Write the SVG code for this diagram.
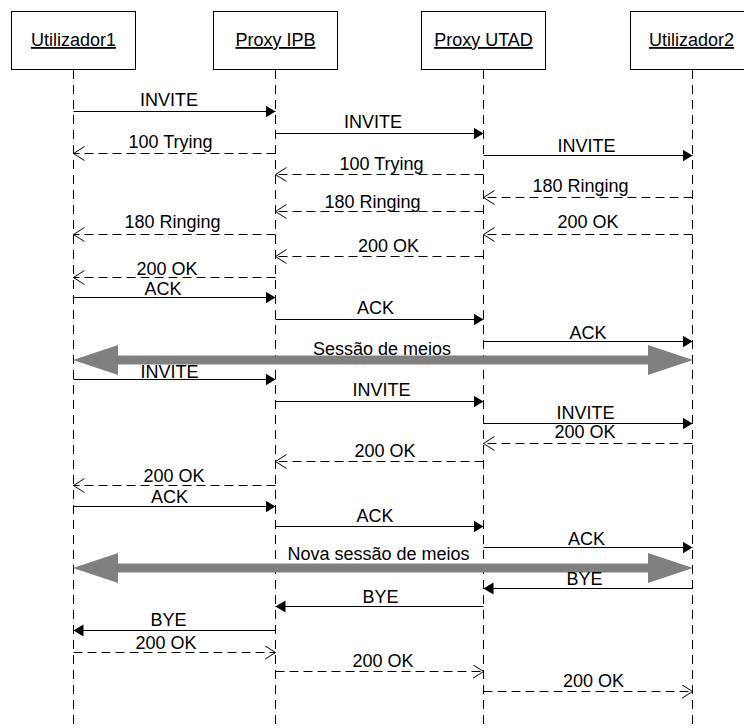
<svg xmlns="http://www.w3.org/2000/svg" width="744" height="728" viewBox="0 0 744 728">
<style>
text{font-family:"Liberation Sans",Arial,sans-serif;font-size:18px;fill:#000;text-anchor:middle}
.box{fill:#fff;stroke:#000;stroke-width:1}
.life{stroke:#000;stroke-width:1;stroke-dasharray:9 6;fill:none}
.msg{stroke:#000;stroke-width:1;fill:none;marker-end:url(#fill)}
.ret{stroke:#000;stroke-width:1;fill:none;stroke-dasharray:9 5;marker-end:url(#open)}
.sess{fill:#808080;stroke:none}
</style>
<defs>
<marker id="fill" markerUnits="userSpaceOnUse" markerWidth="12" markerHeight="14" refX="10" refY="6" orient="auto">
<path d="M0,0 L10,6 L0,12 z" fill="#000"/>
</marker>
<marker id="open" markerUnits="userSpaceOnUse" markerWidth="13" markerHeight="16" refX="11" refY="7" orient="auto">
<path d="M0,0 L11,7 L0,14" fill="none" stroke="#000" stroke-width="1"/>
</marker>
</defs>
<rect width="744" height="728" fill="#fff"/>
<g id="utilizador1">
<rect class="box" x="11.5" y="11.5" width="124" height="58"/>
<text x="73.5" y="46" text-decoration="underline">Utilizador1</text>
<line class="life" x1="73.5" y1="70" x2="73.5" y2="728"/>
</g>
<g id="proxy-ipb">
<rect class="box" x="213.5" y="11.5" width="124" height="58"/>
<text x="275.5" y="46" text-decoration="underline">Proxy IPB</text>
<line class="life" x1="275.5" y1="70" x2="275.5" y2="728"/>
</g>
<g id="proxy-utad">
<rect class="box" x="421.5" y="11.5" width="124" height="58"/>
<text x="483.5" y="46" text-decoration="underline">Proxy UTAD</text>
<line class="life" x1="483.5" y1="70" x2="483.5" y2="728"/>
</g>
<g id="utilizador2">
<rect class="box" x="630.5" y="11.5" width="124" height="58"/>
<text x="691.5" y="46" text-decoration="underline">Utilizador2</text>
<line class="life" x1="692.5" y1="70" x2="692.5" y2="728"/>
</g>
<g id="connectors">
<line class="msg" x1="73.5" y1="111.5" x2="275.5" y2="111.5"/>
<text x="169" y="106">INVITE</text>
<line class="msg" x1="275.5" y1="133.5" x2="483.5" y2="133.5"/>
<text x="373" y="128">INVITE</text>
<line class="ret" x1="275.5" y1="153.5" x2="73.5" y2="153.5"/>
<text x="170.5" y="148">100 Trying</text>
<line class="msg" x1="483.5" y1="155.5" x2="692.5" y2="155.5"/>
<text x="586.5" y="152">INVITE</text>
<line class="ret" x1="483.5" y1="174.5" x2="275.5" y2="174.5"/>
<text x="381.5" y="170">100 Trying</text>
<line class="ret" x1="692.5" y1="197.5" x2="483.5" y2="197.5"/>
<text x="580.5" y="192">180 Ringing</text>
<line class="ret" x1="483.5" y1="211.5" x2="275.5" y2="211.5"/>
<text x="372.5" y="208">180 Ringing</text>
<line class="ret" x1="692.5" y1="234.5" x2="483.5" y2="234.5"/>
<text x="588" y="228">200 OK</text>
<line class="ret" x1="275.5" y1="234.5" x2="73.5" y2="234.5"/>
<text x="172.5" y="228">180 Ringing</text>
<line class="ret" x1="483.5" y1="256.5" x2="275.5" y2="256.5"/>
<text x="388.5" y="252">200 OK</text>
<line class="ret" x1="275.5" y1="277.5" x2="73.5" y2="277.5"/>
<text x="167" y="275">200 OK</text>
<line class="msg" x1="73.5" y1="297.5" x2="275.5" y2="297.5"/>
<text x="163" y="295">ACK</text>
<line class="msg" x1="275.5" y1="319.5" x2="483.5" y2="319.5"/>
<text x="375.5" y="314">ACK</text>
<line class="msg" x1="483.5" y1="341.5" x2="692.5" y2="341.5"/>
<text x="588" y="339">ACK</text>
<polygon class="sess" points="73,360 118,345 118,355.5 648,355.5 648,345 693,360 648,375 648,364.5 118,364.5 118,375"/>
<text x="382" y="355">Sessão de meios</text>
<line class="msg" x1="73.5" y1="379.5" x2="275.5" y2="379.5"/>
<text x="169.5" y="378">INVITE</text>
<line class="msg" x1="275.5" y1="401.5" x2="483.5" y2="401.5"/>
<text x="381.5" y="396">INVITE</text>
<line class="msg" x1="483.5" y1="423.5" x2="692.5" y2="423.5"/>
<text x="585.5" y="419">INVITE</text>
<line class="ret" x1="692.5" y1="443.5" x2="483.5" y2="443.5"/>
<text x="585" y="438">200 OK</text>
<line class="ret" x1="483.5" y1="461.5" x2="275.5" y2="461.5"/>
<text x="385" y="457">200 OK</text>
<line class="ret" x1="275.5" y1="485.5" x2="73.5" y2="485.5"/>
<text x="174" y="482">200 OK</text>
<line class="msg" x1="73.5" y1="506.5" x2="275.5" y2="506.5"/>
<text x="169.5" y="503">ACK</text>
<line class="msg" x1="275.5" y1="526.5" x2="483.5" y2="526.5"/>
<text x="375" y="521.5">ACK</text>
<line class="msg" x1="483.5" y1="547.5" x2="692.5" y2="547.5"/>
<text x="586.5" y="545">ACK</text>
<polygon class="sess" points="73,568 118,553 118,563.5 648,563.5 648,553 693,568 648,583 648,572.5 118,572.5 118,583"/>
<text x="378.5" y="560">Nova sessão de meios</text>
<line class="msg" x1="692.5" y1="588.5" x2="483.5" y2="588.5"/>
<text x="584.5" y="585">BYE</text>
<line class="msg" x1="483.5" y1="606.5" x2="275.5" y2="606.5"/>
<text x="380.5" y="603">BYE</text>
<line class="msg" x1="275.5" y1="630.5" x2="73.5" y2="630.5"/>
<text x="168.5" y="626">BYE</text>
<line class="ret" x1="73.5" y1="652.5" x2="275.5" y2="652.5"/>
<text x="166" y="649">200 OK</text>
<line class="ret" x1="275.5" y1="671.5" x2="483.5" y2="671.5"/>
<text x="383" y="667">200 OK</text>
<line class="ret" x1="483.5" y1="691.5" x2="692.5" y2="691.5"/>
<text x="593.5" y="687">200 OK</text>
</g>
</svg>
